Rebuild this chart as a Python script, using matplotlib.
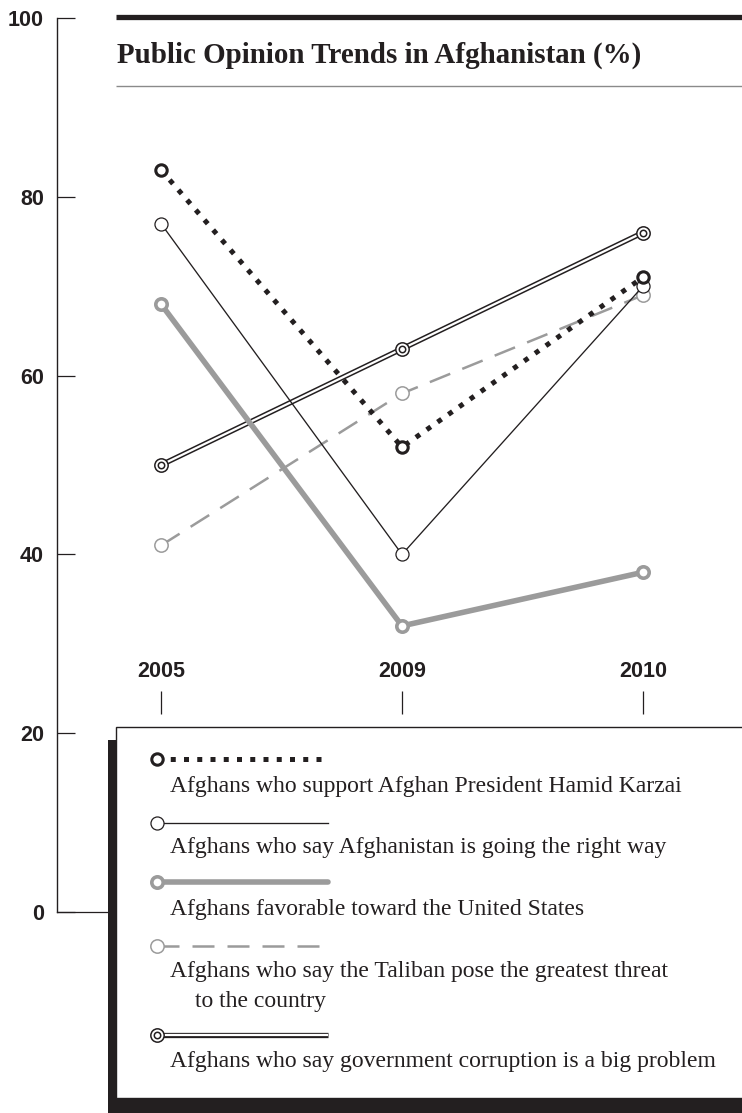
import matplotlib
matplotlib.use('Agg')
import matplotlib.pyplot as plt
from matplotlib.patches import Rectangle

# ---------------- data ----------------
years = ['2005', '2009', '2010']
karzai = [83, 52, 71]
right_way = [77, 40, 70]
favorable_us = [68, 32, 38]
taliban = [41, 58, 69]
corruption = [50, 63, 76]
y_ticks = [0, 20, 40, 60, 80, 100]
title = 'Public Opinion Trends in Afghanistan (%)'
legend_labels = [
    'Afghans who support Afghan President Hamid Karzai',
    'Afghans who say Afghanistan is going the right way',
    'Afghans favorable toward the United States',
    'Afghans who say the Taliban pose the greatest threat\nto the country',
    'Afghans who say government corruption is a big problem',
]

W, H = 742, 1113
fig = plt.figure(figsize=(W / 100, H / 100), dpi=100)
fig.patch.set_facecolor('white')

INK = '#231f20'
GRAY = '#9b9b9b'
SANS = ['Liberation Sans', 'DejaVu Sans']
SERIF = ['Liberation Serif', 'DejaVu Serif']


def draw_series(a, xs, ys, kind, me=None, z=3):
    if kind == 'karzai':
        a.plot(xs, ys, color=INK, lw=3.6, dashes=(1, 1.65), dash_capstyle='butt',
               marker='o', ms=8.2, mfc='white', mec=INK, mew=2.2, markevery=me, zorder=z)
    elif kind == 'right':
        a.plot(xs, ys, color=INK, lw=0.95, marker='o', ms=9.4, mfc='white', mec=INK,
               mew=0.9, markevery=me, zorder=z)
    elif kind == 'us':
        a.plot(xs, ys, color=GRAY, lw=4.0, solid_capstyle='round', marker='o', ms=8.2,
               mfc='white', mec=GRAY, mew=2.6, markevery=me, zorder=z)
    elif kind == 'taliban':
        a.plot(xs, ys, color=GRAY, lw=1.8, dashes=(8.8, 5.2), dash_capstyle='butt',
               marker='o', ms=9.6, mfc='white', mec=GRAY, mew=1.1, markevery=me, zorder=z)
    elif kind == 'corruption':
        a.plot(xs, ys, color=INK, lw=3.8, solid_capstyle='butt', zorder=z)
        a.plot(xs, ys, color='white', lw=1.6, solid_capstyle='butt', zorder=z)
        mx = xs if me is None else [xs[i] for i in me]
        my = ys if me is None else [ys[i] for i in me]
        a.plot(mx, my, 'o', ms=9.6, mfc='white', mec=INK, mew=1.1, zorder=z)
        a.plot(mx, my, 'o', ms=4.6, mfc='white', mec=INK, mew=1.1, zorder=z)


# ---------------- main axes ----------------
ax = fig.add_axes([57 / W, 1 - 912 / H, (W - 57) / W, (912 - 18) / H])
ax.set_facecolor('none')
ax.set_xlim(-104 / 241, 581 / 241)
ax.set_ylim(0, 100)
for s in ['top', 'right', 'bottom']:
    ax.spines[s].set_visible(False)
ax.spines['left'].set_color(INK)
ax.spines['left'].set_linewidth(1.0)
ax.set_xticks([])
ax.set_yticks(y_ticks)
ax.set_yticklabels([str(v) for v in y_ticks])
ax.tick_params(axis='y', direction='in', length=13, width=0.9, color=INK, pad=9.5)
for lab in ax.get_yticklabels():
    lab.set_fontfamily(SANS)
    lab.set_fontweight('bold')
    lab.set_fontsize(15.5)
    lab.set_color(INK)

xs = list(range(len(years)))
draw_series(ax, xs, corruption, 'corruption', z=3)
draw_series(ax, xs, taliban, 'taliban', z=4)
draw_series(ax, xs, favorable_us, 'us', z=5)
draw_series(ax, xs, right_way, 'right', z=6)
draw_series(ax, xs, karzai, 'karzai', z=7)

for i, yr in enumerate(years):
    ax.text(i, 26.85, yr, ha='center', va='center', fontfamily=SANS,
            fontweight='bold', fontsize=15.5, color=INK)
ax.vlines(xs, 22.15, 24.72, color=INK, lw=0.9)

# ---------------- overlay canvas (pixel coords) ----------------
cv = fig.add_axes([0, 0, 1, 1], zorder=10)
cv.set_xlim(0, W)
cv.set_ylim(H, 0)
cv.axis('off')
cv.patch.set_alpha(0)

# title rules and title
cv.plot([116, W], [16.5, 16.5], color=INK, lw=3.8, solid_capstyle='butt')
cv.plot([116, W], [86, 86], color='#8a8a8a', lw=1.0, solid_capstyle='butt')
cv.text(117, 63, title, fontfamily=SERIF, fontweight='bold', fontsize=20.9,
        color=INK, va='baseline', ha='left')

# extension of zero line to legend box
cv.plot([57, 110], [911.5, 911.5], color=INK, lw=0.9)

# legend box with shadow
cv.add_patch(Rectangle((108, 740), 10, H - 740, facecolor=INK, edgecolor='none', zorder=1))
cv.add_patch(Rectangle((108, 1098), W - 108, H - 1098, facecolor=INK, edgecolor='none', zorder=1))
cv.add_patch(Rectangle((116, 726.5), W - 116 + 5, 1098 - 726.5, facecolor='white',
                       edgecolor=INK, lw=1.0, zorder=2))

sample_y = [759, 823, 882, 946, 1035]
text_y = [792, 853, 915, 977, 1067]
kinds = ['karzai', 'right', 'us', 'taliban', 'corruption']
for k, sy, ty, lab in zip(kinds, sample_y, text_y, legend_labels):
    draw_series(cv, [157, 328], [sy, sy], k, me=[0], z=5)
    for j, line in enumerate(lab.split('\n')):
        cv.text(170 + 25 * j, ty + 30 * j, line, fontfamily=SERIF, fontsize=17,
                color=INK, va='baseline', ha='left', zorder=6)

fig.savefig('out.png', dpi=100, facecolor='white')
